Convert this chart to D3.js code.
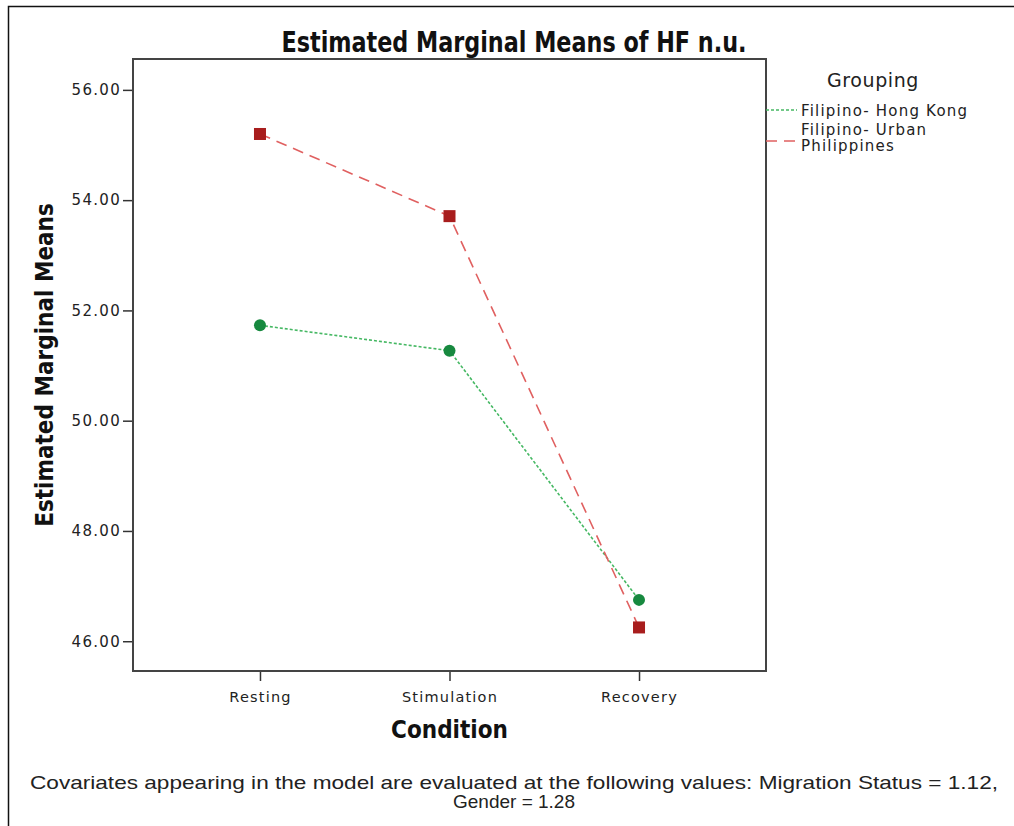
<!DOCTYPE html>
<html>
<head>
<script src="https://d3js.org/d3.v7.min.js"></script>
<style>
  body { margin: 0; background: #fff; }
  text { font-family: "DejaVu Sans", sans-serif; fill: #222; }
  .heavy { font-family: "Liberation Sans Narrow", "DejaVu Sans Condensed", sans-serif; font-weight: bold; fill: #111; }
  .note { font-family: "Liberation Sans", Arial, sans-serif; fill: #222; }
</style>
</head>
<body>
<div id="chart"></div>
<script>
var conditions = ["Resting", "Stimulation", "Recovery"];
var hongKong = [51.73, 51.27, 46.75];
var urbanPhilippines = [55.20, 53.71, 46.25];
var yTicks = [46, 48, 50, 52, 54, 56];
var legendTitle = "Grouping";
var legendLabels = [["Filipino- Hong Kong"], ["Filipino- Urban", "Philippines"]];
var noteLines = ["Covariates appearing in the model are evaluated at the following values: Migration Status = 1.12,",
                 "Gender = 1.28"];

var width = 1014, height = 826;
var box = { left: 133, right: 766, top: 59, bottom: 671 };

var svg = d3.select("#chart").append("svg")
  .attr("width", width)
  .attr("height", height);

// outer frame (left + top edge visible)
svg.append("path")
  .attr("d", "M8.5," + height + "V6.5H" + width)
  .attr("fill", "none")
  .attr("stroke", "#111")
  .attr("stroke-width", 1.5);

var x = d3.scalePoint()
  .domain(conditions)
  .range([box.left, box.right])
  .padding(0.67);

var y = d3.scaleLinear()
  .domain([45.46, 56.56])
  .range([box.bottom, box.top]);

var yAxis = svg.append("g")
  .attr("transform", "translate(" + box.left + ",0)")
  .call(d3.axisLeft(y).tickValues(yTicks).tickFormat(d3.format(".2f")).tickSize(10).tickPadding(2));
yAxis.select(".domain").remove();
yAxis.selectAll("line").attr("stroke", "#333").attr("stroke-width", 1.5);
yAxis.selectAll("text")
  .attr("font-family", "DejaVu Sans")
  .attr("font-size", 15)
  .attr("letter-spacing", 1.3)
  .attr("fill", "#333");

var xAxis = svg.append("g")
  .attr("transform", "translate(0," + box.bottom + ")")
  .call(d3.axisBottom(x).tickSize(10).tickPadding(11));
xAxis.select(".domain").remove();
xAxis.selectAll("line").attr("stroke", "#333").attr("stroke-width", 1.5);
xAxis.selectAll("text")
  .attr("font-family", "DejaVu Sans")
  .attr("font-size", 14.5)
  .attr("letter-spacing", 1.2)
  .attr("fill", "#333");

svg.append("rect")
  .attr("x", box.left)
  .attr("y", box.top)
  .attr("width", box.right - box.left)
  .attr("height", box.bottom - box.top)
  .attr("fill", "none")
  .attr("stroke", "#444")
  .attr("stroke-width", 2);

var line = d3.line()
  .x(function (d, i) { return x(conditions[i]); })
  .y(function (d) { return y(d); });

svg.append("path")
  .datum(hongKong)
  .attr("d", line)
  .attr("fill", "none")
  .attr("stroke", "#45b863")
  .attr("stroke-width", 1.6)
  .attr("stroke-dasharray", "3,2");

svg.append("path")
  .datum(urbanPhilippines)
  .attr("d", line)
  .attr("fill", "none")
  .attr("stroke", "#e06060")
  .attr("stroke-width", 1.6)
  .attr("stroke-dasharray", "11,7");

svg.selectAll(".hk")
  .data(hongKong)
  .enter().append("circle")
  .attr("cx", function (d, i) { return x(conditions[i]); })
  .attr("cy", function (d) { return y(d); })
  .attr("r", 6)
  .attr("fill", "#17893f");

svg.selectAll(".up")
  .data(urbanPhilippines)
  .enter().append("rect")
  .attr("x", function (d, i) { return x(conditions[i]) - 6; })
  .attr("y", function (d) { return y(d) - 6; })
  .attr("width", 12)
  .attr("height", 12)
  .attr("fill", "#a81d1d");

// titles
svg.append("text")
  .attr("class", "heavy")
  .attr("x", 514)
  .attr("y", 52)
  .attr("text-anchor", "middle")
  .attr("font-size", 28)
  .attr("textLength", 465)
  .attr("lengthAdjust", "spacingAndGlyphs")
  .text("Estimated Marginal Means of HF n.u.");

svg.append("text")
  .attr("class", "heavy")
  .attr("transform", "translate(53," + ((box.top + box.bottom) / 2) + ") rotate(-90)")
  .attr("text-anchor", "middle")
  .attr("font-size", 24)
  .text("Estimated Marginal Means");

svg.append("text")
  .attr("class", "heavy")
  .attr("x", (box.left + box.right) / 2)
  .attr("y", 738)
  .attr("text-anchor", "middle")
  .attr("font-size", 24)
  .text("Condition");

// legend
var legend = svg.append("g");
legend.append("text")
  .attr("x", 873)
  .attr("y", 87)
  .attr("text-anchor", "middle")
  .attr("font-size", 19)
  .attr("letter-spacing", 0.6)
  .text(legendTitle);

var legendLineY = [110, 141];
var legendTextY = [116, 135];
var legendStroke = [["#45b863", "3,2"], ["#e06060", "11,7"]];
legendLabels.forEach(function (lines, k) {
  legend.append("line")
    .attr("x1", box.right)
    .attr("x2", 797)
    .attr("y1", legendLineY[k])
    .attr("y2", legendLineY[k])
    .attr("stroke", legendStroke[k][0])
    .attr("stroke-width", 1.4)
    .attr("stroke-dasharray", legendStroke[k][1]);
  lines.forEach(function (t, j) {
    legend.append("text")
      .attr("x", 801)
      .attr("y", legendTextY[k] + j * 16)
      .attr("font-size", 15)
      .attr("letter-spacing", 1.2)
      .text(t);
  });
});

// footnote
noteLines.forEach(function (t, j) {
  var tx = svg.append("text")
    .attr("class", "note")
    .attr("x", 514)
    .attr("y", 789 + j * 19)
    .attr("text-anchor", "middle")
    .attr("font-size", 19)
    .text(t);
  if (j === 0) tx.attr("textLength", 968).attr("lengthAdjust", "spacingAndGlyphs");
});
</script>
</body>
</html>
